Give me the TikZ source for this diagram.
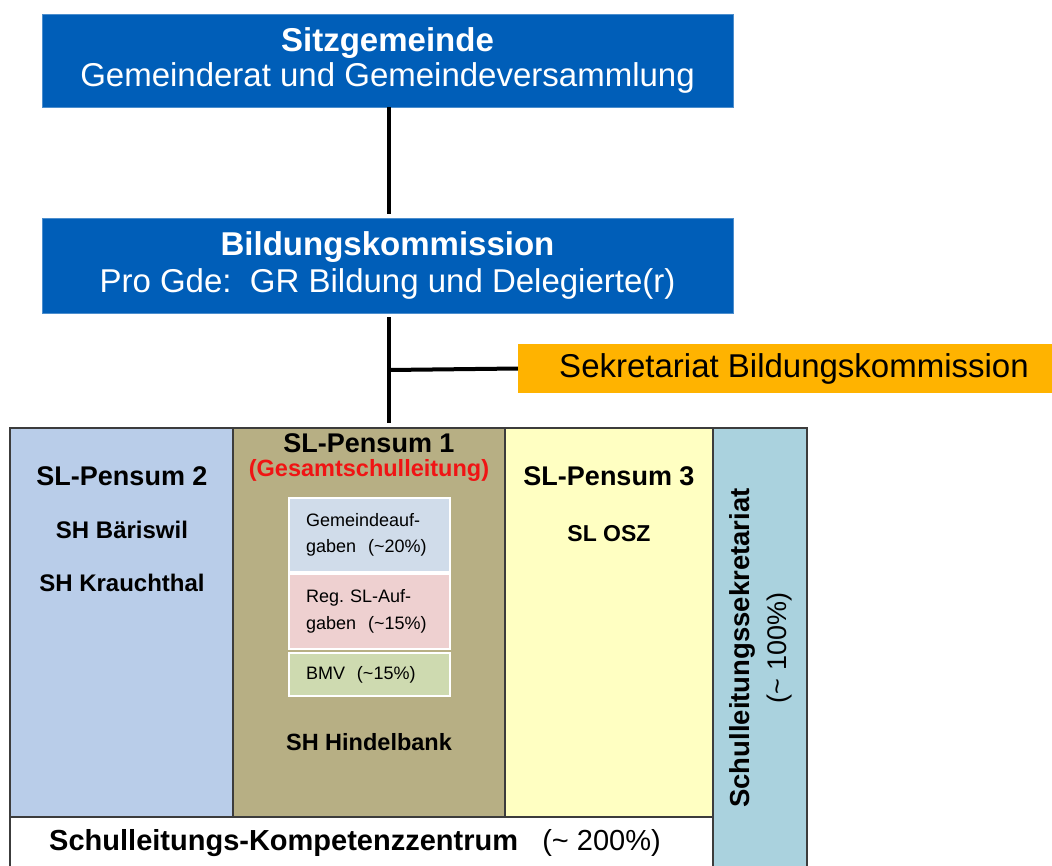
\documentclass[tikz,border=0pt]{standalone}
\usepackage{fontspec}
\setmainfont{Liberation Sans}
\definecolor{topblue}{RGB}{0,94,184}
\definecolor{sekorange}{RGB}{255,179,0}
\definecolor{colblue}{RGB}{185,205,233}
\definecolor{cololive}{RGB}{183,175,132}
\definecolor{colyellow}{RGB}{255,255,194}
\definecolor{colcyan}{RGB}{170,210,222}
\definecolor{subblue}{RGB}{208,220,234}
\definecolor{subred}{RGB}{238,208,208}
\definecolor{subgreen}{RGB}{206,218,176}
\definecolor{gridline}{RGB}{60,60,60}
\definecolor{gesred}{RGB}{240,20,20}
\newcommand{\fs}[2]{\fontsize{#1}{#2}\selectfont}
\tikzset{
  topbox/.style={fill=topblue, draw=topblue!70!white, line width=0.8pt, text=white,
    minimum width=691pt, minimum height=93pt, align=center, inner sep=0pt},
  cell/.style={fill=#1, draw=gridline, line width=1.6pt},
  conn/.style={draw=black, line width=3.5pt},
  subbox/.style={fill=#1, draw=white, line width=2pt, anchor=north west,
    minimum width=161pt, align=left, text width=127pt, inner xsep=17pt, inner ysep=0pt},
  lbl/.style={inner sep=0pt, align=center}
}
\begin{document}
\frenchspacing
\begin{tikzpicture}[x=1pt,y=-1pt]
\useasboundingbox (0,0) rectangle (1052,865);
\fill[white] (0,0) rectangle (1052,865);

% top boxes
\node[topbox, font=\fs{33}{35}] (sitz) at (387.5,60.5) {\textbf{Sitzgemeinde}\\Gemeinderat und Gemeindeversammlung};
\node[topbox, minimum height=95pt, font=\fs{33}{37}] (bild) at (387.5,265.5) {\textbf{Bildungskommission}\\Pro Gde:\ \ GR Bildung und Delegierte(r)};

% secretariat
\node[fill=sekorange, minimum width=552pt, minimum height=49pt, inner sep=0pt, font=\fs{33}{36}] (sek) at (794,368.5) {Sekretariat Bildungskommission};

% grid cells
\fill[white] (10,817) rectangle (713,880);
\draw[cell=colblue] (10,428) rectangle (233,817);
\draw[cell=cololive] (233,428) rectangle (505,817);
\draw[cell=colyellow] (505,428) rectangle (713,817);
\draw[cell=colcyan] (713,428) rectangle (807,880);
\draw[gridline, line width=1.6pt] (10,817) -- (10,880);
\draw[gridline, line width=1.6pt] (10,817) -- (713,817);

\coordinate (gtop) at (389,428);
\coordinate (junc) at (389,370);

% connectors
\draw[conn, shorten >=4pt] (sitz.south -| junc) -- (bild.north -| junc);
\draw[conn, shorten <=4pt, shorten >=5pt] (bild.south -| junc) -- (gtop);
\draw[conn, line width=4pt] (junc) -- (sek.west);

% column texts
\node[lbl, font=\fs{27}{30}\bfseries] (p2) at (122,476) {SL-Pensum 2};
\node[lbl, font=\fs{24}{28}\bfseries] (bar) at (122,530) {SH Bäriswil};
\node[lbl, font=\fs{24}{28}\bfseries] (kra) at (122,583) {SH Krauchthal};

\node[lbl, font=\fs{27}{30}\bfseries] (p1) at (369,443) {SL-Pensum 1};
\node[lbl, text=gesred, font=\fs{23.5}{28}\bfseries] (ges) at (369,470) {(Gesamtschulleitung)};

\node[subbox=subblue, minimum height=74pt, font=\fs{18}{26}] (ga) at (288,497) {Gemeindeauf-\\gaben\ \ (\textasciitilde20\%)};
\node[subbox=subred, minimum height=75pt, font=\fs{18}{27}] (ra) at (288,573) {Reg. SL-Auf-\\gaben\ \ (\textasciitilde15\%)};
\node[subbox=subgreen, minimum height=43pt, font=\fs{18}{26}] (bmv) at (288,652) {BMV\ \ (\textasciitilde15\%)};

\node[lbl, font=\fs{23.5}{28}\bfseries] (hin) at (369,742) {SH Hindelbank};

\node[lbl, font=\fs{27}{30}\bfseries] (p3) at (609,476) {SL-Pensum 3};
\node[lbl, font=\fs{23}{28}\bfseries] (osz) at (609,534) {SL OSZ};

\node[lbl, rotate=90, font=\fs{27.5}{30}\bfseries] (sls) at (742,648) {Schulleitungssekretariat};
\node[lbl, rotate=90, font=\fs{27}{30}] (slp) at (780,648) {(\textasciitilde{} 100\%)};

\node[lbl, font=\fs{29}{32}] (kz) at (355,843) {\textbf{Schulleitungs-Kompetenzzentrum}\ \ \ (\textasciitilde{} 200\%)};
\end{tikzpicture}
\end{document}
